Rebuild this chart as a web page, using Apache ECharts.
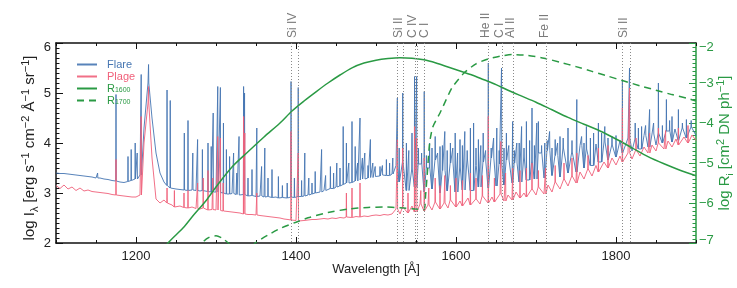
<!DOCTYPE html>
<html>
<head>
<meta charset="utf-8">
<script src="https://cdn.jsdelivr.net/npm/echarts@6/dist/echarts.min.js"></script>
<style>html,body{margin:0;padding:0;background:#fff}#c{width:737px;height:288px}</style>
</head>
<body>
<div id="c"></div>
<script>
// ---------- data ----------
const WL_START = 1100;   // first continuum sample [Å]
const WL_STEP = 5;       // continuum sampling step [Å]

// Flare continuum (log I), 1100..1900 every 5 Å
const flareContinuum = [
  3.40,3.39,3.39,3.38,3.37,3.36,3.35,3.34,3.33,3.32,3.30,3.30,3.28,3.27,3.25,
  3.24,3.22,3.21,3.23,3.25,3.28,3.36,
  4.30,5.20,4.50,3.80,3.40,3.22,
  3.15,3.10,3.08,3.07,3.06,3.05,3.06,3.05,3.04,3.05,3.03,3.02,3.02,
  3.01,3.00,2.98,2.99,2.97,2.96,2.97,2.94,2.95,2.93,2.94,2.92,2.93,2.91,2.92,2.90,2.91,2.90,2.92,2.91,
  2.93,2.94,2.96,2.98,3.00,3.02,3.05,3.07,3.09,3.12,3.14,3.17,3.20,3.21,3.24,3.26,3.28,3.30,3.31,3.33,
  3.34,3.36,3.35,3.38,
  3.55,3.22,3.62,3.05,3.48,3.12,3.58,3.02,3.50,3.08,3.66,3.00,3.45,3.04,3.60,3.02,3.52,3.06,3.68,3.05,
  3.55,3.12,3.62,3.10,3.70,3.14,3.58,3.16,3.66,3.20,3.60,3.22,3.72,3.26,3.64,3.28,
  3.80,3.30,3.85,3.35,3.75,3.32,3.90,3.40,3.82,3.42,3.95,3.50,3.88,3.55,3.98,3.62,4.02,3.66,3.96,3.72,
  4.05,3.80,4.10,3.84,4.08,3.88,4.15,3.92,4.18,3.96,4.20,4.00,4.24,4.02,4.28,4.05,4.30,4.10,4.32,4.15
];
// Plage continuum (log I), 1100..1900 every 5 Å
const plageContinuum = [
  3.15,3.09,3.16,3.08,3.12,3.05,3.10,3.04,3.06,3.03,3.02,3.01,3.00,2.99,2.97,
  2.96,2.95,2.94,2.93,2.92,2.92,2.96,
  4.00,4.80,3.70,2.88,2.80,2.86,
  2.80,2.76,2.72,2.74,2.71,2.70,2.72,2.69,2.68,2.70,2.66,2.67,2.66,
  2.65,2.64,2.63,2.62,2.61,2.60,2.58,2.57,2.57,2.56,2.55,2.54,2.53,2.52,2.51,2.50,2.48,2.47,2.46,2.45,
  2.44,2.45,2.46,2.47,2.47,2.48,2.49,2.48,2.50,2.49,2.51,2.50,2.52,2.51,2.53,2.52,2.54,2.53,2.55,2.56,
  2.55,2.57,2.56,2.58,
  2.68,2.58,2.72,2.60,2.74,2.62,2.78,2.64,2.76,2.66,2.82,2.68,2.80,2.70,2.86,2.72,2.84,2.74,2.90,2.76,
  2.88,2.78,2.94,2.80,2.92,2.82,2.98,2.84,2.96,2.86,3.02,2.90,3.00,2.92,3.08,2.96,
  3.12,2.98,3.16,3.02,3.22,3.08,3.28,3.14,3.34,3.20,3.42,3.28,3.48,3.34,3.55,3.42,3.62,3.50,3.70,3.56,
  3.74,3.62,3.80,3.68,3.86,3.74,3.92,3.80,3.96,3.84,4.00,3.88,4.04,3.92,4.08,3.96,4.12,4.00,4.16,4.05
];
// Emission line peaks [wavelength Å, log I peak]
const flareLines = [
  [1152,3.40],[1175,4.97],[1190,3.73],[1194,3.87],[1199,4.00],[1201.5,3.80],[1206.5,5.37],[1215.7,5.57],
  [1238.8,5.06],[1242.8,4.85],[1260.4,4.20],[1265,4.45],[1271,3.80],[1277,4.07],[1283,3.87],[1290,4.00],
  [1294,3.93],[1296.5,4.60],[1302.2,5.13],[1305.5,5.11],[1309.3,4.40],[1313,3.87],[1317,3.73],[1322,3.80],
  [1326,3.40],[1328.8,4.13],[1334.5,5.13],[1335.7,5.00],[1340,3.30],[1345,3.47],[1351,4.30],[1357,3.53],
  [1361,3.90],[1365,3.30],[1370,3.47],[1378,3.33],[1383,3.15],[1389,3.20],[1393.8,5.23],[1398,3.30],
  [1402.8,5.11],[1407,3.25],[1411,3.80],[1416,3.30],[1420,3.20],[1424,3.43],[1432,3.87],[1437,3.35],
  [1443,3.53],[1447,3.40],[1451,3.60],[1455,3.50],[1459,4.33],[1463,4.00],[1466,3.60],[1470,4.43],
  [1474,3.93],[1477,3.60],[1480,4.50],[1483,3.70],[1486,3.80],[1490,3.55],[1493,4.07],[1496,3.60],
  [1499,3.53],[1505,3.53],[1508,3.55],[1513,3.67],[1517,3.60],[1521,3.70],
  [1526.7,4.90],[1529,3.90],[1533.4,5.00],[1538,4.00],[1541,3.85],[1545,4.20],[1548.2,5.33],[1550.8,5.33],
  [1553,3.90],[1557,3.80],[1560.3,5.03],[1563,3.75],[1567,4.00],[1570,3.90],[1574,4.13],[1577,3.80],
  [1580,3.93],[1583,3.95],[1586,4.23],[1589,3.85],[1593,4.00],[1596,3.90],[1599,4.20],[1602,3.80],
  [1605,4.07],[1608,3.95],[1611,4.23],[1614,3.85],[1618,4.30],[1622,4.40],[1625,3.90],[1628,4.07],
  [1631,3.95],[1634,4.20],[1637,3.85],[1640.4,5.60],[1644,3.90],[1647,4.10],[1651,4.30],[1654,3.85],
  [1656.9,5.50],[1660,3.90],[1663,4.20],[1666,3.95],[1670.8,4.43],[1673,3.85],[1676,4.00],[1679,4.00],
  [1682,4.33],[1685,3.90],[1688,4.43],[1692,4.05],[1695,4.70],[1698,3.95],[1701,4.40],[1703,4.43],
  [1707,3.95],[1711,4.00],[1714,4.05],[1717,4.23],[1720,3.90],[1724,4.07],[1727,4.00],[1730,4.13],
  [1734,4.10],[1740,4.30],[1745,4.05],[1751,4.87],[1757,4.13],[1760,4.00],[1763,4.33],[1768,4.10],
  [1772,4.20],[1778,4.40],[1782,4.20],[1786,4.33],[1790,4.10],[1795,4.13],[1800,4.15],[1808,5.25],
  [1816.9,5.50],[1824,4.40],[1828,4.30],[1832,4.33],[1837,4.35],[1842,4.67],[1847,4.40],[1853,5.20],
  [1858,4.35],[1863,4.87],[1867,4.45],[1870,4.53],[1874,4.30],[1878,4.67],[1883,4.40],[1888,4.47],[1894,4.45]
];
const plageLines = [
  [1175,3.67],[1206.5,4.53],[1215.7,5.13],[1238.8,3.10],[1248,3.05],[1260,3.00],[1265,3.05],[1277,3.20],
  [1284,3.30],[1290,3.45],[1296,3.30],[1302.2,4.13],[1305.5,4.10],[1309,3.20],[1334.5,4.53],[1336,4.20],
  [1351,3.00],[1393.8,4.23],[1402.8,3.80],[1463,3.00],[1470,3.10],[1480,3.20],
  [1526.7,4.07],[1533.4,3.90],[1540,3.00],[1548.2,4.33],[1550.8,4.10],[1556,3.05],[1560.3,3.70],[1566,3.10],
  [1574,3.30],[1580,3.15],[1586,3.35],[1593,3.15],[1600,3.30],[1608,3.25],[1618,3.40],[1625,3.30],
  [1633,3.35],[1640.4,4.53],[1648,3.30],[1656,4.03],[1662,3.40],[1670.8,3.50],[1680,3.45],[1688,3.50],
  [1695,3.60],[1703,3.45],[1712,3.50],[1724,3.55],[1735,3.60],[1745,3.70],[1751,3.80],[1765,3.75],
  [1778,3.90],[1790,3.95],[1808,4.70],[1816.9,5.10],[1825,4.10],[1842,4.20],[1853,4.30],[1862,4.25],
  [1878,4.30],[1890,4.35]
];
// Response functions [wavelength Å, log R]
const r1600 = [
  [1230,-7.3],[1240,-7.0],[1259,-6.62],[1270,-6.35],[1288,-5.93],[1300,-5.6],[1320,-5.1],[1340,-4.72],
  [1360,-4.35],[1380,-4.0],[1395,-3.7],[1410,-3.45],[1425,-3.22],[1440,-3.0],[1455,-2.8],[1470,-2.62],
  [1485,-2.5],[1500,-2.43],[1515,-2.39],[1530,-2.37],[1545,-2.38],[1560,-2.42],[1575,-2.5],[1590,-2.6],
  [1605,-2.7],[1620,-2.8],[1635,-2.92],[1650,-3.04],[1665,-3.18],[1680,-3.31],[1700,-3.48],[1720,-3.67],
  [1740,-3.86],[1760,-4.03],[1780,-4.2],[1800,-4.4],[1820,-4.62],[1840,-4.84],[1860,-5.02],[1880,-5.18],[1900,-5.32]
];
const r1700 = [
  [1276,-7.2],[1285,-6.95],[1292,-6.85],[1300,-6.82],[1308,-6.88],[1318,-7.05],[1330,-7.3],[1340,-7.2],
  [1349,-7.0],[1365,-6.8],[1382,-6.62],[1400,-6.48],[1415,-6.37],[1440,-6.24],[1465,-6.15],[1490,-6.11],
  [1510,-6.1],[1530,-6.12],[1550,-6.15],[1560,-6.17],[1562,-5.8],[1564,-5.3],[1567,-4.5],[1571,-4.1],
  [1580,-3.75],[1595,-3.12],[1610,-2.75],[1625,-2.52],[1640,-2.4],[1655,-2.33],[1670,-2.29],[1690,-2.31],
  [1710,-2.38],[1730,-2.48],[1750,-2.59],[1770,-2.71],[1790,-2.83],[1810,-2.95],[1830,-3.07],[1850,-3.18],
  [1870,-3.29],[1890,-3.39],[1900,-3.45]
];
// Identified lines
const idWavelengths = [1393.76,1402.77,1526.71,1533.43,1548.19,1550.77,1560.31,1640.42,1656.93,1670.79,1713.0,1808.01,1816.93];
const idLabels      = ['Si IV','','Si II','','C IV','','C I','He II','C I','Al II','Fe II','Si II',''];
const xTicksLabeled = [1200,1400,1600,1800];
// label pixel nudges (layout only)
const idLabelNudge  = [1.5,0,1.5,0,-2,0,1,-2,-2.5,-2.5,-1,1.5,0];

// ---------- build ----------
function buildSpectrum(cont, lines) {
  const pts = cont.map((v, i) => [WL_START + i * WL_STEP, v]);
  lines.forEach(([w, p]) => {
    const c = cont[Math.round((w - WL_START) / WL_STEP)];
    pts.push([w - 0.3, c], [w, p], [w + 0.3, c]);
  });
  pts.sort((a, b) => a[0] - b[0]);
  return pts;
}
const FONT = '"Liberation Sans", Arial, Helvetica, sans-serif';
const BLUE = '#4676b2', PINK = '#f0607a', GREEN = '#2a9a44', GREY = '#7a7a7a';
const minus = s => String(s).replace('-', '\u2212');

const chart = echarts.init(document.getElementById('c'), null, {renderer: 'canvas'});
const gridA = {left: 56, right: 41, top: 43, bottom: 45, containLabel: false, outerBoundsMode: 'none'};
const gridB = {left: 136, right: 121, top: 43, bottom: 45, containLabel: false, outerBoundsMode: 'none'};
const baseX = {type: 'value', min: 1100, max: 1900, interval: 50, splitLine: {show: false}};
chart.setOption({
  animation: false,
  backgroundColor: '#fff',
  grid: [gridA, gridB],
  xAxis: [
    Object.assign({}, baseX, {gridIndex: 0, position: 'bottom',
      axisLine: {lineStyle: {color: '#111', width: 1.5}},
      axisTick: {inside: true, length: 3, lineStyle: {color: '#111'}}, axisLabel: {show: false}}),
    {type: 'value', gridIndex: 1, position: 'bottom', min: xTicksLabeled[0], max: xTicksLabeled[xTicksLabeled.length-1], interval: 200,
      splitLine: {show: false}, axisLine: {show: false},
      axisTick: {inside: true, length: 6, lineStyle: {color: '#111'}},
      axisLabel: {color: '#222', fontSize: 13, fontFamily: FONT, margin: 7, formatter: v => String(v)},
      name: 'Wavelength [Å]', nameLocation: 'middle', nameGap: 20, nameMoveOverlap: false,
      nameTextStyle: {color: '#222', fontSize: 13, fontFamily: FONT}},
    Object.assign({}, baseX, {gridIndex: 0, position: 'top',
      axisLine: {lineStyle: {color: '#111', width: 1.5}},
      axisTick: {inside: true, length: 3, lineStyle: {color: '#111'}}, axisLabel: {show: false}}),
    {type: 'value', gridIndex: 1, position: 'top', min: xTicksLabeled[0], max: xTicksLabeled[xTicksLabeled.length-1], interval: 200,
      splitLine: {show: false}, axisLine: {show: false},
      axisTick: {inside: true, length: 6, lineStyle: {color: '#111'}}, axisLabel: {show: false}}
  ],
  yAxis: [
    {type: 'value', gridIndex: 0, position: 'left', min: 2, max: 6, interval: 1,
      splitLine: {show: false},
      axisLine: {lineStyle: {color: '#111', width: 1.5}},
      axisTick: {inside: true, length: 7, lineStyle: {color: '#111'}},
      minorTick: {show: true, splitNumber: 10, length: 3.5, lineStyle: {color: '#111'}},
      axisLabel: {color: '#222', fontSize: 13, fontFamily: FONT, margin: 5,
        formatter: v => v === 6 ? '{t|6}' : String(v), rich: {t: {padding: [8, 0, 0, 0], fontSize: 13}}},
      name: 'log I{sub|λ} [erg s{sup|−1} cm{sup|−2} Å{sup|−1} sr{sup|−1}]',
      nameLocation: 'middle', nameRotate: 90, nameGap: 16, nameMoveOverlap: false,
      nameTextStyle: {color: '#222', fontSize: 15, fontFamily: FONT, lineHeight: 20, padding: [0, 10, 0, 0],
        rich: {sub: {fontSize: 11, verticalAlign: 'bottom', color: '#222', fontFamily: FONT},
               sup: {fontSize: 11, verticalAlign: 'top', color: '#222', fontFamily: FONT}}}},
    {type: 'value', gridIndex: 0, position: 'right', min: -7, max: -2, interval: 1,
      splitLine: {show: false},
      axisLine: {lineStyle: {color: GREEN, width: 1.5}},
      axisTick: {inside: true, length: 7, lineStyle: {color: GREEN}},
      minorTick: {show: true, splitNumber: 10, length: 3.5, lineStyle: {color: GREEN}},
      axisLabel: {color: GREEN, fontSize: 13, fontFamily: FONT, margin: 3,
        formatter: v => v === -2 ? '{t|' + minus(v) + '}' : (v === -7 ? '{b|' + minus(v) + '}' : minus(v)),
        rich: {t: {padding: [8, 0, 0, 0], fontSize: 13, color: GREEN}, b: {padding: [0, 0, 5, 0], fontSize: 13, color: GREEN}}},
      name: 'log R{sub|i} [cm{sup|2} DN ph{sup|−1}]',
      nameLocation: 'middle', nameRotate: 90, nameGap: 19, nameMoveOverlap: false,
      nameTextStyle: {color: GREEN, fontSize: 15, fontFamily: FONT, lineHeight: 20,
        rich: {sub: {fontSize: 9, verticalAlign: 'bottom', color: GREEN, fontFamily: FONT},
               sup: {fontSize: 11, verticalAlign: 'top', color: GREEN, fontFamily: FONT}}}},
    {type: 'value', gridIndex: 1, show: false, min: 0, max: 1}
  ],
  legend: {
    orient: 'vertical', left: 71, top: 54, itemWidth: 20, itemHeight: 10, itemGap: 1,
    itemStyle: {opacity: 0},
    data: [
      {name: 'Flare', textStyle: {color: BLUE}},
      {name: 'Plage', textStyle: {color: PINK}},
      {name: 'R1600', textStyle: {color: GREEN}},
      {name: 'R1700', textStyle: {color: GREEN}}
    ],
    formatter: n => n[0] === 'R' ? 'R{s|' + n.slice(1) + '}' : n,
    textStyle: {fontSize: 11, fontFamily: FONT, padding: [0, 0, 0, 5],
      rich: {s: {fontSize: 7, color: GREEN, verticalAlign: 'bottom', fontFamily: FONT}}}
  },
  series: [
    {name: 'Flare', type: 'line', xAxisIndex: 0, yAxisIndex: 0, symbol: 'none',
      data: buildSpectrum(flareContinuum, flareLines), lineStyle: {color: BLUE, width: 1, opacity: 0.9}, itemStyle: {color: BLUE}, z: 2},
    {name: 'Plage', type: 'line', xAxisIndex: 0, yAxisIndex: 0, symbol: 'none',
      data: buildSpectrum(plageContinuum, plageLines), lineStyle: {color: PINK, width: 1, opacity: 0.9}, itemStyle: {color: PINK}, z: 3},
    {name: 'R1600', type: 'line', xAxisIndex: 0, yAxisIndex: 1, symbol: 'none', smooth: 0.3,
      data: r1600, lineStyle: {color: GREEN, width: 1.5}, itemStyle: {color: GREEN}, z: 4},
    {name: 'R1700', type: 'line', xAxisIndex: 0, yAxisIndex: 1, symbol: 'none', smooth: 0.2,
      data: r1700, lineStyle: {color: GREEN, width: 1.5, type: [7, 5]}, itemStyle: {color: GREEN}, z: 4},
    {name: 'ids', type: 'custom', xAxisIndex: 0, yAxisIndex: 0, clip: false, z: 5,
      data: idWavelengths.map((w, i) => [w, i]),
      renderItem: function (params, api) {
        const w = api.value(0), i = api.value(1);
        const top = api.coord([w, 6]), bot = api.coord([w, 2]);
        const x = Math.round(top[0]) + 0.5;
        const children = [{type: 'line', shape: {x1: x, y1: top[1], x2: x, y2: bot[1]},
          style: {stroke: '#8a8a8a', lineWidth: 1, lineDash: [1, 2]}}];
        const t = idLabels[i];
        if (t) children.push({type: 'text', x: x - 0.5 + idLabelNudge[i], y: top[1] - 5, rotation: Math.PI / 2,
          style: {text: t, fill: GREY, font: '12px ' + FONT, align: 'left', verticalAlign: 'middle'}});
        return {type: 'group', children: children};
      }}
  ]
});
</script>
</body>
</html>
